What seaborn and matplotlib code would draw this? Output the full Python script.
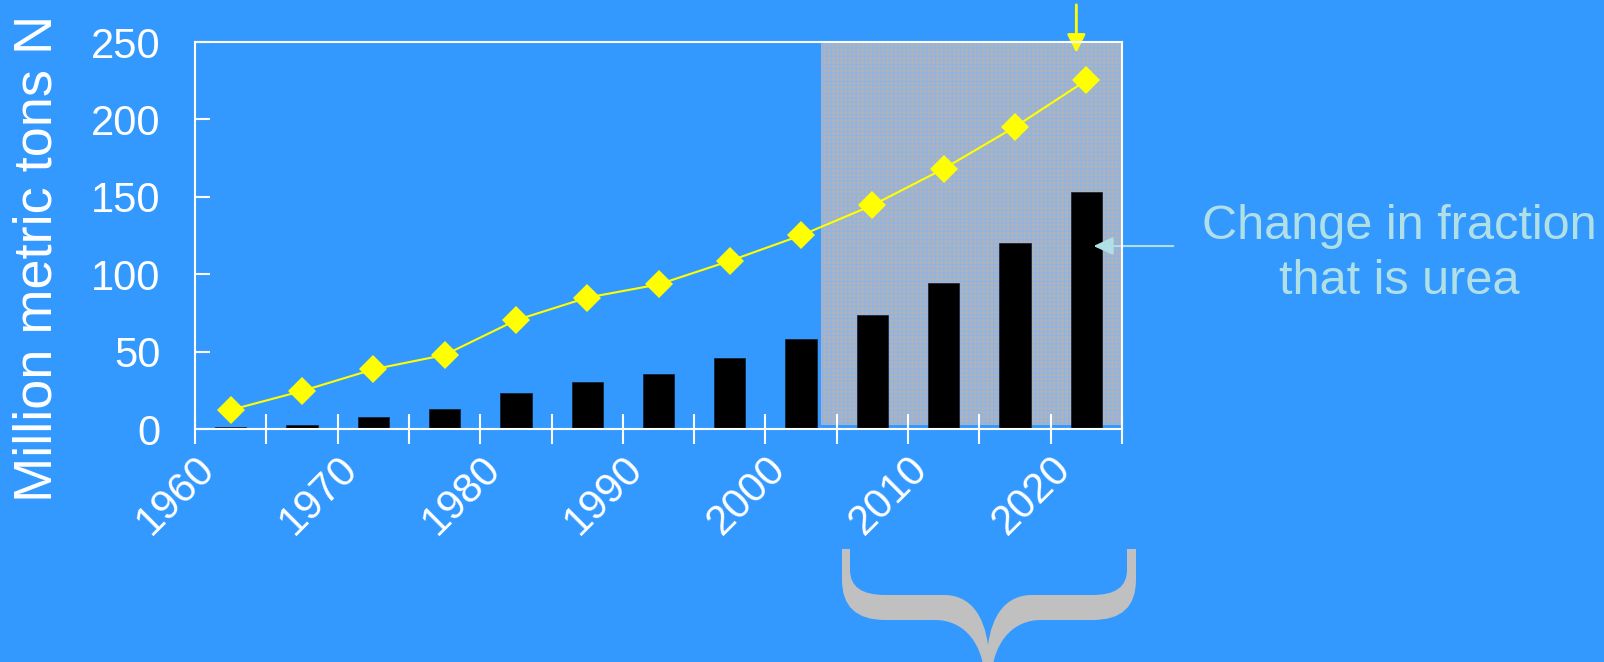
import numpy as np
import matplotlib
matplotlib.use("Agg")
import matplotlib.pyplot as plt
import matplotlib.transforms as mtransforms
from matplotlib.patches import Rectangle, PathPatch
from matplotlib.path import Path
from matplotlib.ticker import MultipleLocator
import seaborn as sns

plt.rcParams['font.family'] = ['Liberation Sans', 'DejaVu Sans']
plt.rcParams['hatch.linewidth'] = 0.8

# five-year periods, plotted at the middle of each period
mid_years = [1962.5, 1967.5, 1972.5, 1977.5, 1982.5, 1987.5, 1992.5,
             1997.5, 2002.5, 2007.5, 2012.5, 2017.5, 2022.5]
total_n = [12.5, 24.7, 38.7, 48.0, 70.4, 85.0, 93.5,
           108.7, 125.2, 144.6, 168.2, 195.2, 225.3]
urea_n = [1.3, 2.8, 7.7, 12.9, 23.2, 30.5, 35.4,
          46.0, 58.4, 73.8, 94.4, 120.3, 153.2]

y_ticks = [0, 50, 100, 150, 200, 250]
shade_years = (2003.9, 2025.1)
note_text = "Change in fraction\nthat is urea"

BG = '#3399ff'
W, H = 1604, 662

fig = plt.figure(figsize=(W / 100, H / 100), dpi=100, facecolor=BG)
ax = fig.add_axes([195 / W, 1 - 429.3 / H, 927 / W, 387.3 / H], facecolor=BG)

# projected period
ax.add_patch(Rectangle((shade_years[0], 2.8), shade_years[1] - shade_years[0], 248,
                       facecolor='#b3b3b3', edgecolor='#8cb4ea', hatch='++++',
                       lw=0, zorder=0.5, clip_on=False))

sns.barplot(x=mid_years, y=urea_n, native_scale=True, width=0.44,
            color='black', edgecolor='#1a1a2a', linewidth=0.5,
            saturation=1, errorbar=None, ax=ax, zorder=2)
sns.lineplot(x=mid_years, y=total_n, color='#ffff00', lw=1.5, marker='D',
             markersize=14, markeredgewidth=0, ax=ax, zorder=4)

ax.set_xlim(1960, 2025)
ax.set_ylim(0, 250)
ax.set_yticks(y_ticks)
ax.xaxis.set_major_locator(MultipleLocator(10))
ax.xaxis.set_minor_locator(MultipleLocator(5))
ax.set_xticklabels([str(int(t)) for t in ax.get_xticks()])

for s in ax.spines.values():
    s.set_color('white')
    s.set_linewidth(1.5)
    s.set_zorder(5)

ax.tick_params(axis='y', direction='in', length=10.8, width=1.5, color='white',
               labelcolor='white', labelsize=30, pad=25)
ax.tick_params(axis='x', which='both', direction='inout', length=21.6, width=1.5,
               color='white', labelcolor='white', labelsize=30)
ax.tick_params(axis='x', which='major', pad=13)
shift = mtransforms.ScaledTranslation(14 / 100, 0, fig.dpi_scale_trans)
for lab in ax.get_xticklabels():
    lab.set_rotation(45)
    lab.set_ha('right')
    lab.set_va('center')
    lab.set_rotation_mode('anchor')
    lab.set_transform(lab.get_transform() + shift)

ax.set_xlabel('')
ax.set_ylabel('Million metric tons N', color='white', fontsize=39)
ax.yaxis.set_label_coords(-0.143, 0.442)

# arrows
ax.annotate('', xy=(2021.8, 243), xytext=(2021.8, 274),
            arrowprops=dict(arrowstyle='-|>,head_length=1.1,head_width=0.55',
                            color='#ffff00', lw=2, shrinkA=0, shrinkB=0),
            annotation_clip=False)
ax.annotate('', xy=(2023.0, 118.3), xytext=(2028.6, 118.3),
            arrowprops=dict(arrowstyle='-|>,head_length=1.2,head_width=0.55',
                            color='#b0e0e6', lw=1.5, shrinkA=0, shrinkB=0),
            annotation_clip=False)

fig.text(1399 / W, 1 - 254 / H, note_text, color='#b0e0e6', fontsize=35,
         ha='center', va='center', linespacing=1.28)

# curly brace under the projected period (pixel outline -> figure fraction)
M, L, C3, C4, CL = Path.MOVETO, Path.LINETO, Path.CURVE3, Path.CURVE4, Path.CLOSEPOLY
brace = [
    (M, (842, 549)), (L, (842, 580)), (C3, (842, 620)), (C3, (885, 620)),
    (L, (935, 620)), (C4, (962, 620)), (C4, (980, 640)), (C4, (984, 670)),
    (L, (992, 670)), (C4, (996, 640)), (C4, (1014, 620)), (C4, (1041, 620)),
    (L, (1093, 620)), (C3, (1136, 620)), (C3, (1136, 580)),
    (L, (1136, 549)), (L, (1127, 549)), (L, (1127, 570)),
    (C3, (1127, 595)), (C3, (1093, 595)), (L, (1032, 595)),
    (C4, (1006, 595)), (C4, (992, 615)), (C4, (988, 645)),
    (C4, (984, 615)), (C4, (970, 595)), (C4, (944, 595)),
    (L, (885, 595)), (C3, (850, 595)), (C3, (850, 570)),
    (L, (850, 549)), (CL, (842, 549)),
]
codes = [c for c, _ in brace]
verts = [(x / W, 1 - y / H) for _, (x, y) in brace]
fig.patches.append(PathPatch(Path(verts, codes), facecolor='#c0c0c0',
                             edgecolor='none', transform=fig.transFigure))

fig.savefig('out.png', dpi=100, facecolor=BG)
